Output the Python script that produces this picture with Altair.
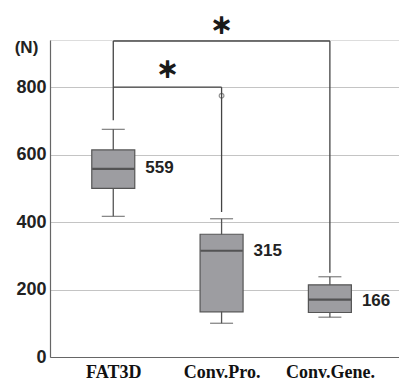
import altair as alt
import pandas as pd

categories = ["FAT3D", "Conv.Pro.", "Conv.Gene."]
whisker_low = [417, 100, 118]
q1 = [500, 134, 132]
median = [558, 315, 170]
q3 = [614, 364, 214]
whisker_high = [675, 410, 238]
median_labels = [559, 315, 166]

outlier_cat = [1]
outlier_val = [775]

# significance brackets: from category index, to category index, height, leg ends
br_from = [0, 0]
br_to = [1, 2]
br_y = [800, 937]
br_left_end = [800, 702]
br_right_end = [430, 250]
star_y = [848, 978]

y_ticks = [0, 200, 400, 600, 800]

box = pd.DataFrame({
    "pos": list(range(len(categories))),
    "lo": whisker_low, "q1": q1, "med": median, "q3": q3, "hi": whisker_high,
    "lab": median_labels,
})
box["labtxt"] = box["lab"].astype(str)
out = pd.DataFrame({"pos": outlier_cat, "v": outlier_val})
br = pd.DataFrame({"a": br_from, "b": br_to, "y": br_y, "le": br_left_end,
                   "re": br_right_end, "sy": star_y})
br["mid"] = (br["a"] + br["b"]) / 2
br["star"] = "＊"

label_expr = "[" + ",".join("'" + c + "'" for c in categories) + "][datum.value]"

xs = alt.Scale(domain=[-0.538, 2.592], nice=False, zero=False)
ys = alt.Scale(domain=[0, 940], nice=False)

X = alt.X("pos:Q", scale=xs, axis=alt.Axis(
    values=list(range(len(categories))), labelExpr=label_expr, title=None,
    grid=False, ticks=False, domain=True, domainColor="#666", domainWidth=1.2,
    labelFont="Liberation Serif", labelFontWeight="bold", labelFontSize=18,
    labelColor="#111", labelPadding=6, labelBaseline="top"))
Y = alt.Y("lo:Q", scale=ys, axis=alt.Axis(
    values=y_ticks, title="(N)", titleAngle=0, titleX=-24, titleY=7,
    titleAlign="center", titleBaseline="middle", titleFont="Liberation Sans",
    titleFontSize=17, titleFontWeight="bold", titleColor="#222",
    grid=True, gridColor="#c4c4c4", gridWidth=1, ticks=False,
    domain=True, domainColor="#666", domainWidth=1.2,
    labelFont="Liberation Sans", labelFontWeight="bold", labelFontSize=18,
    labelColor="#222", labelPadding=4))

base = alt.Chart(box)

whisk = base.mark_rule(color="#555", strokeWidth=1.3).encode(x=X, y=Y, y2="hi:Q")
caps_lo = base.mark_tick(orient="horizontal", size=23, thickness=1.3, color="#555").encode(
    x=alt.X("pos:Q", scale=xs), y=alt.Y("lo:Q", scale=ys))
caps_hi = base.mark_tick(orient="horizontal", size=23, thickness=1.3, color="#555").encode(
    x=alt.X("pos:Q", scale=xs), y=alt.Y("hi:Q", scale=ys))
boxes = base.mark_bar(size=43, color="#9d9da1", stroke="#555", strokeWidth=1.2).encode(
    x=alt.X("pos:Q", scale=xs), y=alt.Y("q1:Q", scale=ys), y2="q3:Q")
meds = base.mark_tick(orient="horizontal", size=42, thickness=2.2, color="#333").encode(
    x=alt.X("pos:Q", scale=xs), y=alt.Y("med:Q", scale=ys))
labels = base.mark_text(align="left", baseline="middle", dx=32, font="Liberation Sans",
                        fontWeight="bold", fontSize=17, color="#222").encode(
    x=alt.X("pos:Q", scale=xs), y=alt.Y("lab:Q", scale=ys), text="labtxt:N")

outl = alt.Chart(out).mark_point(shape="circle", size=22, color="#666", strokeWidth=1.2,
                                 filled=False).encode(
    x=alt.X("pos:Q", scale=xs), y=alt.Y("v:Q", scale=ys))

bch = alt.Chart(br)
br_h = bch.mark_rule(color="#444", strokeWidth=1.3).encode(
    x=alt.X("a:Q", scale=xs), x2="b:Q", y=alt.Y("y:Q", scale=ys))
br_l = bch.mark_rule(color="#444", strokeWidth=1.3).encode(
    x=alt.X("a:Q", scale=xs), y=alt.Y("y:Q", scale=ys), y2="le:Q")
br_r = bch.mark_rule(color="#444", strokeWidth=1.3).encode(
    x=alt.X("b:Q", scale=xs), y=alt.Y("y:Q", scale=ys), y2="re:Q")
stars = bch.mark_text(font="Noto Sans CJK JP", fontSize=21, fontWeight="bold",
                      baseline="middle", color="#1a1a1a", stroke="#1a1a1a",
                      strokeWidth=1.5).encode(
    x=alt.X("mid:Q", scale=xs), y=alt.Y("sy:Q", scale=ys), text="star:N")

chart = alt.layer(whisk, caps_lo, caps_hi, boxes, meds, labels, outl,
                  br_h, br_l, br_r, stars).properties(
    width=349, height=317,
    autosize=alt.AutoSizeParams(type="none"),
    padding={"left": 42, "top": 32, "right": 0, "bottom": 25},
).configure_view(stroke=None).configure(background="white")

chart.save("out.html", embed_options={"renderer": "svg", "actions": False})
